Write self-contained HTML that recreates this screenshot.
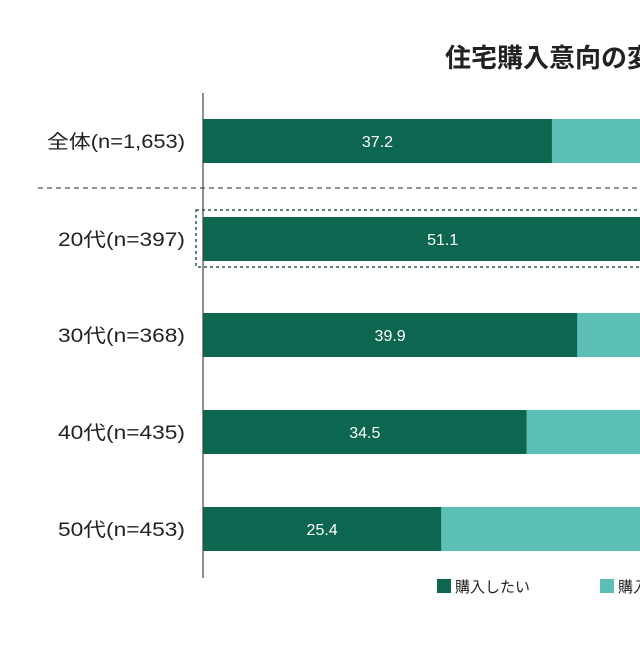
<!DOCTYPE html>
<html><head><meta charset="utf-8"><style>
body{margin:0;width:640px;height:640px;overflow:hidden;background:#fff;font-family:"Liberation Sans","Noto Sans CJK JP",sans-serif;}
</style></head><body>
<svg id="c" width="640" height="640" viewBox="0 0 640 640">
<text x="445" y="67" font-size="26" font-weight="bold" fill="#222" font-family="Liberation Sans, Noto Sans CJK JP, sans-serif">住宅購入意向の変化</text>
<line x1="38" y1="188" x2="640" y2="188" stroke="#555" stroke-dasharray="5,4" stroke-width="1.2"/>
<rect x="196" y="210" width="460" height="57" fill="none" stroke="#2d5a4e" stroke-dasharray="3,3" stroke-width="1.5"/>
<g id="bars"></g>
<line x1="203" y1="93" x2="203" y2="578" stroke="#444" stroke-width="1.2"/>
<rect x="437" y="579" width="14" height="14" fill="#0c6650"/>
<text x="455" y="592" font-size="15" fill="#222">購入したい</text>
<rect x="600" y="579" width="14" height="14" fill="#5bbfb5"/>
<text x="618" y="592" font-size="15" fill="#222">購入したくない</text>
</svg>
<script>
const categories=["全体(n=1,653)","20代(n=397)","30代(n=368)","40代(n=435)","50代(n=453)"];
const wantValues=[37.2,51.1,39.9,34.5,25.4];
const rowCenters=[141,239,335,432,529];
const x0=203, pxPerUnit=9.38, barH=44;
const xs=v=>x0+v*pxPerUnit;
const g=document.getElementById('bars');
const NS='http://www.w3.org/2000/svg';
categories.forEach((cat,i)=>{
  const cy=rowCenters[i], v=wantValues[i];
  const r2=document.createElementNS(NS,'rect');
  r2.setAttribute('x',xs(v));r2.setAttribute('y',cy-barH/2);r2.setAttribute('width',Math.max(0,xs(100)-xs(v)));r2.setAttribute('height',barH);r2.setAttribute('fill','#5bbfb5');
  
  
  g.appendChild(r2);
  const r=document.createElementNS(NS,'rect');
  r.setAttribute('x',x0);r.setAttribute('y',cy-barH/2);r.setAttribute('width',xs(v)-x0);r.setAttribute('height',barH);r.setAttribute('fill','#0c6650');
  
  
  g.appendChild(r);
  const t=document.createElementNS(NS,'text');
  t.setAttribute('x',(x0+xs(v))/2);t.setAttribute('y',cy+6);t.setAttribute('text-anchor','middle');t.setAttribute('font-size','16');t.setAttribute('fill','#fff');
  t.textContent=v.toFixed(1);
  
  
  g.appendChild(t);
  const l=document.createElementNS(NS,'text');
  l.setAttribute('x',185);l.setAttribute('y',cy+7);l.setAttribute('text-anchor','end');l.setAttribute('font-size','19');l.setAttribute('fill','#222');
  l.setAttribute('textLength', i===0?138:127);
  l.setAttribute('lengthAdjust','spacingAndGlyphs');
  l.textContent=cat;
  
  
  g.appendChild(l);
});
</script>
</body></html>
